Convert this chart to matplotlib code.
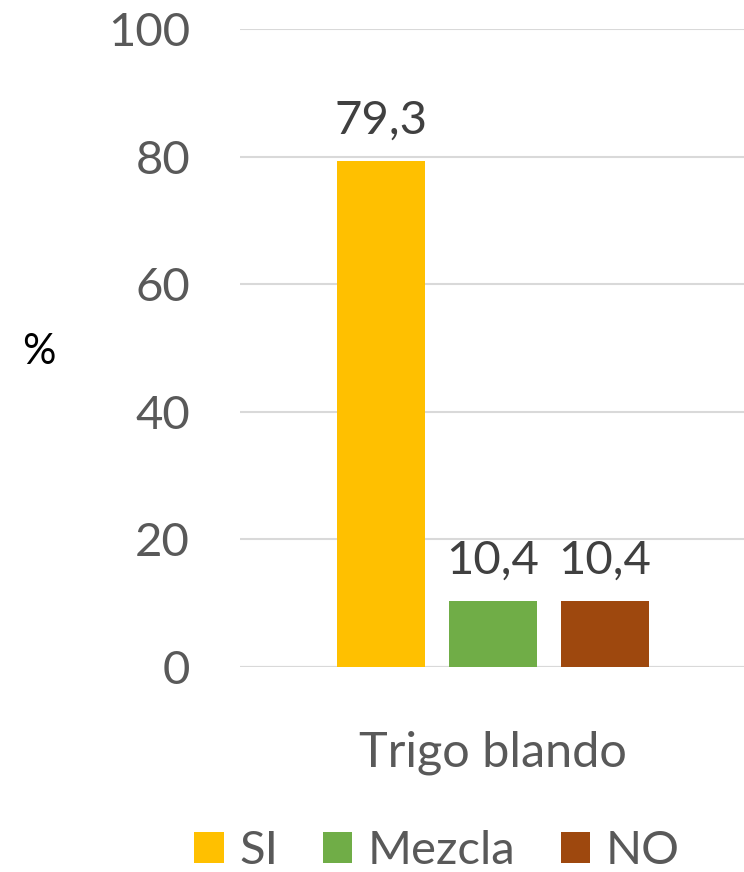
import matplotlib
matplotlib.use("Agg")
import matplotlib.pyplot as plt
from matplotlib.patches import Patch

categories = ["Trigo blando"]
series_names = ["SI", "Mezcla", "NO"]
series_values = [[79.3], [10.4], [10.4]]
value_labels = ["79,3", "10,4", "10,4"]
colors = ["#FFC000", "#70AD47", "#9E480E"]
yticks = [0, 20, 40, 60, 80, 100]

plt.rcParams['font.family'] = ['Lato', 'DejaVu Sans']

fig = plt.figure(figsize=(7.44, 8.72), dpi=100)
ax = fig.add_axes([240/744, 1-667/872, (746-240)/744, (667-29)/872])

width = 88/506
gap = 24/506
offsets = [-(width+gap), 0, (width+gap)]
for i, (name, vals) in enumerate(zip(series_names, series_values)):
    for j, v in enumerate(vals):
        ax.bar(j + offsets[i], v, width=width, color=colors[i], zorder=3)
        ax.text(j + offsets[i], v + 3, value_labels[i], ha='center', va='bottom',
                fontsize=34, color='#404040')

ax.set_xlim(-0.5, 0.5)
ax.set_ylim(0, 100)
ax.set_yticks(yticks)
ax.set_yticklabels([str(t) for t in yticks], fontsize=34, color='#595959')
ax.set_xticks(range(len(categories)))
ax.set_xticklabels(categories, fontsize=35, color='#595959')
ax.tick_params(axis='y', length=0, pad=36)
ax.tick_params(axis='x', length=0, pad=46)
ax.grid(axis='y', color='#D9D9D9', linewidth=1.5, zorder=0)
for s in ax.spines.values():
    s.set_visible(False)
ax.axhline(0, color='#D9D9D9', linewidth=1.5, zorder=1)

fig.text(39/744, 1-352/872, '%', fontsize=30, color='black', ha='center', va='center')

handles = [Patch(facecolor=c) for c in colors]
fig.legend(handles, series_names, loc='center', bbox_to_anchor=(437/744, 1-851/872),
           ncol=3, frameon=False, fontsize=34, labelcolor='#595959',
           handlelength=0.62, handleheight=0.62, handletextpad=0.33, columnspacing=0.95)

fig.savefig("out.png", dpi=100)
